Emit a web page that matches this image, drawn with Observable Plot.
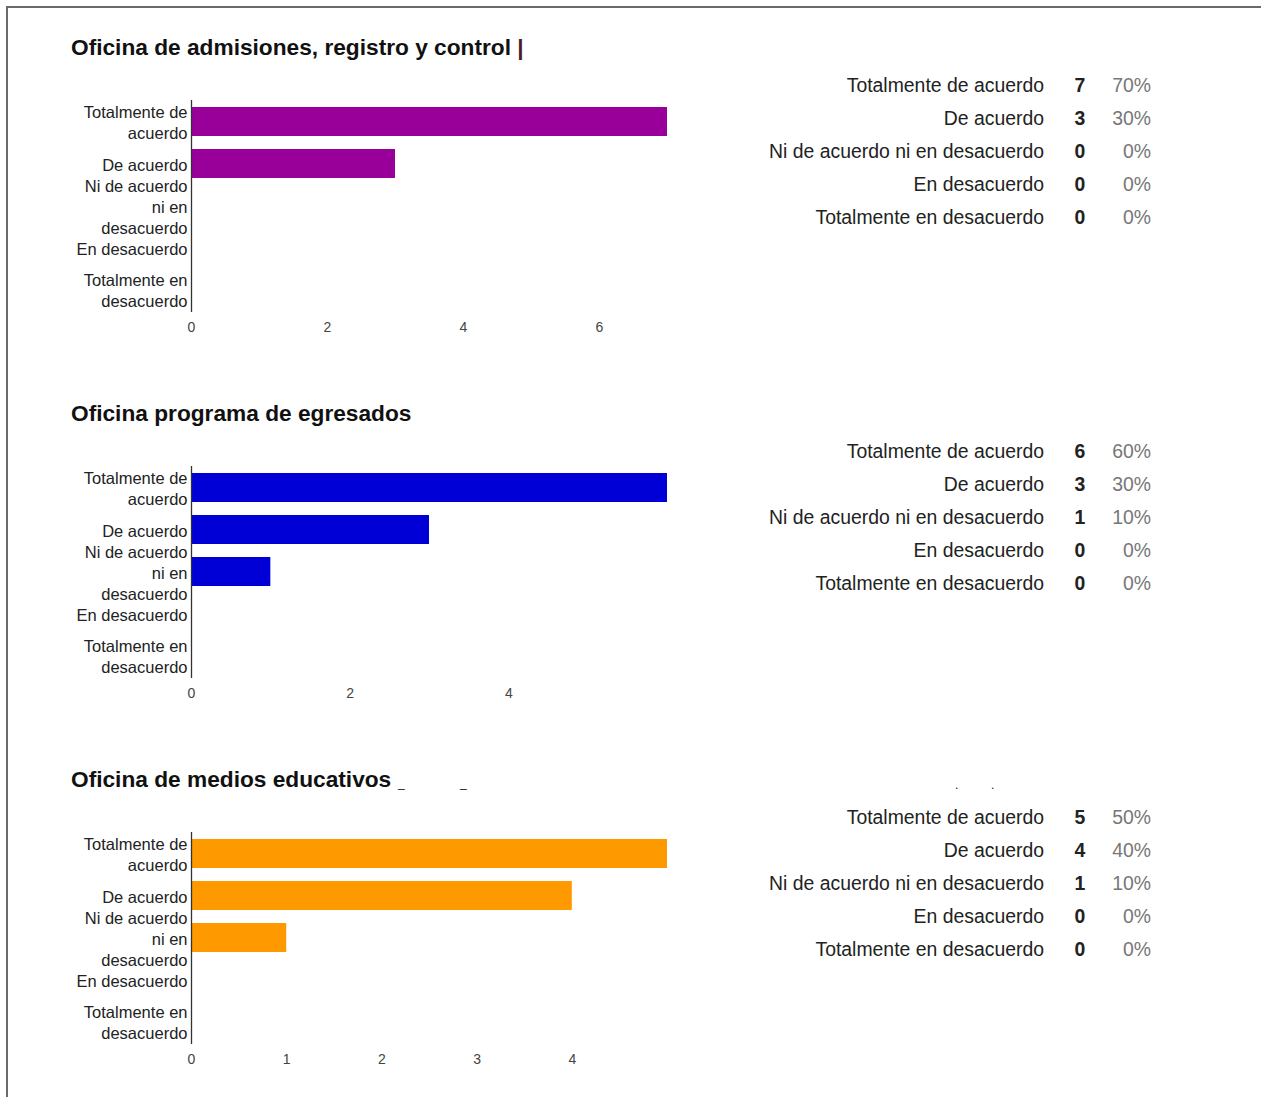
<!DOCTYPE html>
<html><head><meta charset="utf-8">
<script src="https://cdn.jsdelivr.net/npm/d3@7"></script>
<script src="https://cdn.jsdelivr.net/npm/@observablehq/plot@0.6"></script>
<style>
body{margin:0;background:#fff;font-family:"Liberation Sans",Arial,sans-serif;}
#page{position:relative;width:1261px;height:1097px;overflow:hidden;background:#fff;}
#frame{position:absolute;left:6px;top:6px;width:1300px;height:1200px;border-top:2px solid #6a6a6a;border-left:2px solid #6a6a6a;}
.title{position:absolute;left:71px;font-weight:bold;font-size:22.7px;line-height:24px;color:#111;white-space:nowrap;}
.chart{position:absolute;left:0;}
.row{position:absolute;left:700px;width:460px;height:33px;font-size:19.4px;line-height:33px;}
.row .lab{position:absolute;right:116px;color:#222;white-space:nowrap;}
.row .cnt{position:absolute;left:370px;width:20px;text-align:center;font-weight:bold;color:#222;}
.row .pct{position:absolute;right:9px;color:#777;}
.art{position:absolute;font-size:12px;color:#222;}
</style>
</head><body>
<div id="page"><div id="frame"></div></div>
<script>
const categories = ["Totalmente de acuerdo","De acuerdo","Ni de acuerdo ni en desacuerdo","En desacuerdo","Totalmente en desacuerdo"];
const tickLabels = ["Totalmente de\nacuerdo","De acuerdo","Ni de acuerdo\nni en\ndesacuerdo","En desacuerdo","Totalmente en\ndesacuerdo"];
const titles = ["Oficina de admisiones, registro y control","Oficina programa de egresados","Oficina de medios educativos"];
const admisionesValues = [7,3,0,0,0];
const egresadosValues = [6,3,1,0,0];
const mediosValues = [5,4,1,0,0];
const colors = ["#990099","#0000d6","#ff9900"];
const xTicks = [[0,2,4,6],[0,2,4],[0,1,2,3,4]];

const panels = [admisionesValues, egresadosValues, mediosValues];
const page = document.getElementById("page");

panels.forEach((values, i) => {
  const T = 366 * i;
  const data = categories.map((c, k) => ({category: c, label: tickLabels[k], value: values[k]}));
  const total = d3.sum(values);

  const t = document.createElement("div");
  t.className = "title";
  t.style.top = (35 + T) + "px";
  t.textContent = titles[i];
  if (i === 0) {
    const s = document.createElement("span");
    s.textContent = " |";
    s.style.color = "#4a1c24";
    t.appendChild(s);
  }
  page.appendChild(t);

  const chart = Plot.plot({
    width: 690, height: 262,
    marginLeft: 191, marginRight: 23, marginTop: 20, marginBottom: 30,
    style: {fontFamily: "'Liberation Sans', Arial, sans-serif", background: "transparent"},
    x: {domain: [0, d3.max(values)], axis: null, label: null},
    y: {domain: categories, paddingInner: 0.3, paddingOuter: 0.15, axis: null, label: null},
    marks: [
      Plot.barX(data, {x: "value", y: "category", fill: colors[i]}),
      Plot.ruleX([0], {stroke: "#333", strokeWidth: 1.3}),
      Plot.text(data, {x: () => 0, y: "category", text: "label", textAnchor: "end", dx: -4, lineHeight: 1.28, fontSize: 16.5, fill: "#222"}),
      Plot.axisX({ticks: xTicks[i], tickSize: 0, tickPadding: 10, fontSize: 14, color: "#444", label: null, tickFormat: d => String(d)})
    ]
  });
  chart.classList.add("chart");
  chart.style.top = (80 + T) + "px";
  page.appendChild(chart);

  categories.forEach((c, k) => {
    const r = document.createElement("div");
    r.className = "row";
    r.style.top = (68.5 + T + 33 * k) + "px";
    const pct = Math.round(values[k] / total * 100) + "%";
    r.innerHTML = `<span class="lab">${c}</span><span class="cnt">${values[k]}</span><span class="pct">${pct}</span>`;
    page.appendChild(r);
  });
});

// stray marks next to the third title
[[398,776,"_"],[460,776,"_"],[955,778,"."],[991,778,"."]].forEach(([x,y,s]) => {
  const a = document.createElement("div");
  a.className = "art"; a.style.left = x + "px"; a.style.top = y + "px"; a.textContent = s;
  page.appendChild(a);
});
</script>
</body></html>
